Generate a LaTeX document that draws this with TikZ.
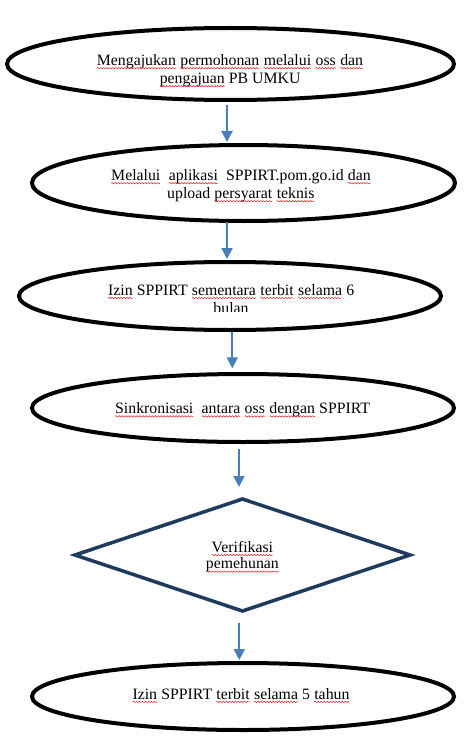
\documentclass[tikz,border=0pt]{standalone}
\usepackage{fontspec}
\setmainfont{Liberation Serif}
\usetikzlibrary{shapes.geometric,arrows.meta,decorations.pathmorphing}
\definecolor{arrowblue}{HTML}{4A7EBB}
\definecolor{diamondnavy}{HTML}{1F3A5F}
\definecolor{spellred}{HTML}{E02020}
\newcommand\spl[1]{\tikz[baseline=(sw.base),x=1pt,y=1pt]{\node[inner sep=0pt,outer sep=0pt,anchor=base] (sw) at (0,0) {#1};\draw[spellred,line width=0.5pt,decorate,decoration={snake,amplitude=0.7pt,segment length=3pt}] ([yshift=-2.8pt]sw.base west) -- ([yshift=-2.8pt]sw.base east);}}
\begin{document}
\begin{tikzpicture}[x=1pt,y=-1pt,
  flow/.style={ellipse,draw=black,line width=4pt,inner sep=0pt,outer sep=0pt},
  decide/.style={diamond,draw=diamondnavy,line width=3.5pt,inner sep=0pt,outer sep=0pt},
  lbl/.style={inner sep=0pt,align=center,font=\fontsize{15.8}{18}\selectfont},
  arr/.style={draw=arrowblue,line width=2pt,-{Triangle[width=11pt,length=11pt]}}]
\useasboundingbox (0,0) rectangle (468,741);
\fill[white] (0,0) rectangle (468,741);
% shapes
\node[flow,minimum width=447pt,minimum height=72pt] (e1) at (230.5,64) {};
\node[flow,minimum width=423pt,minimum height=76pt] (e2) at (243.5,183) {};
\node[flow,minimum width=422pt,minimum height=68pt] (e3) at (230,296) {};
\node[flow,minimum width=422pt,minimum height=68pt] (e4) at (243,408) {};
\node[decide,minimum width=335pt,minimum height=112pt] (d) at (242.5,555) {};
\node[flow,minimum width=422pt,minimum height=67pt] (e5) at (243,696.5) {};
% texts
\node[lbl] (t1) at (230,70.8) {\spl{Mengajukan} \spl{permohonan} \spl{melalui} \spl{oss} \spl{dan}\\\spl{pengajuan} PB UMKU};
\node[lbl] (t2) at (241,185.8) {\spl{Melalui}\ \ \spl{aplikasi}\ \ SPPIRT.pom.go.id \spl{dan}\\upload \spl{persyarat} \spl{teknis}};
\begin{scope}
\clip (0,250) rectangle (468,311.5);
\node[lbl] (t3) at (231,298.8) {\spl{Izin} SPPIRT \spl{sementara} \spl{terbit} \spl{selama} 6\\bulan};
\end{scope}
\node[lbl] (t4) at (242.5,410) {\spl{Sinkronisasi}\ \ \spl{antara} \spl{oss} \spl{dengan} SPPIRT};
\node[lbl,font=\fontsize{15.8}{16.5}\selectfont] (td) at (242.4,556.8) {\spl{Verifikasi}\\\spl{pemehunan}};
\node[lbl] (t5) at (241,695.5) {\spl{Izin} SPPIRT \spl{terbit} \spl{selama} 5 \spl{tahun}};
% connectors
\draw[arr] ([xshift=-3.5pt,yshift=-5pt]e1.south) -- ([xshift=-16.5pt,yshift=3pt]e2.north);
\draw[arr] ([xshift=-16.5pt,yshift=-1pt]e2.south) -- ([xshift=-3pt,yshift=3pt]e3.north);
\draw[arr] ([xshift=2.3pt,yshift=-1.7pt]e3.south) -- ([xshift=-10.7pt,yshift=5.7pt]e4.north);
\draw[arr] ([xshift=-4pt,yshift=-7pt]e4.south) -- ([xshift=-3.5pt,yshift=12pt]d.north);
\draw[arr] ([xshift=-3.2pt,yshift=-11.7pt]d.south) -- ([xshift=-3.7pt,yshift=3pt]e5.north);
\end{tikzpicture}
\end{document}
